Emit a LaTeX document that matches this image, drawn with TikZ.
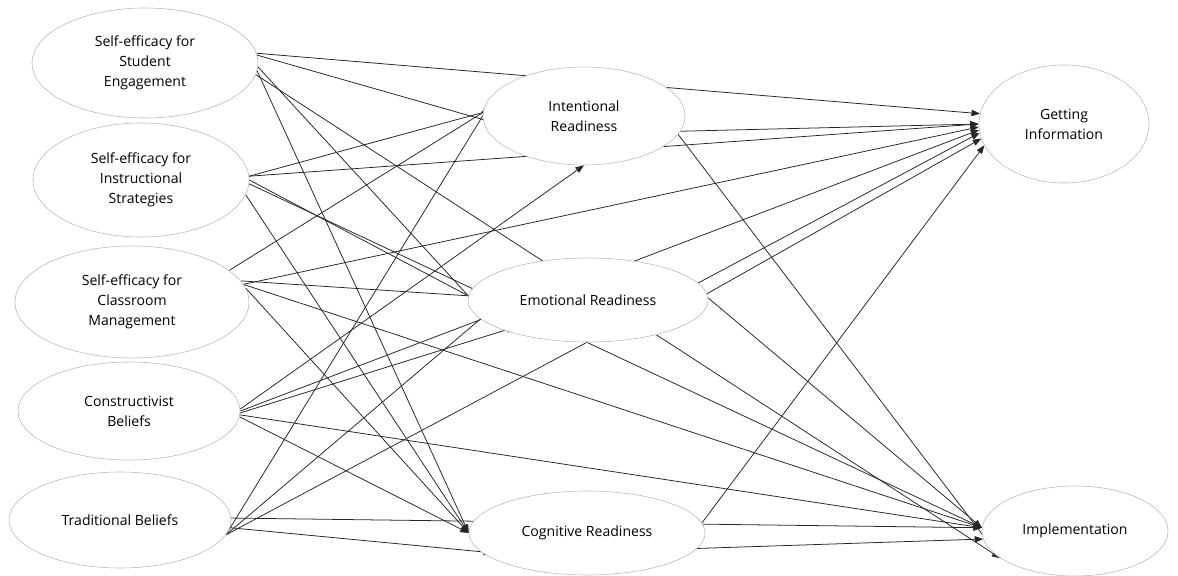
\documentclass[tikz,border=0pt]{standalone}
\usepackage{fontspec}
\setmainfont{Open Sans}
\usetikzlibrary{arrows.meta,shapes.geometric,backgrounds}

\begin{document}
\begin{tikzpicture}[x=0.025cm,y=-0.025cm,
    var/.style={ellipse,draw=black!28,fill=white,inner sep=0pt,align=center,font=\fontsize{10}{14.2}\selectfont},
    link/.style={draw=black!85,line width=0.55pt,-{Triangle[length=6pt,width=4.5pt]}},
    tuck/.style={shorten >=-8pt}]
\useasboundingbox (0,0) rectangle (1178,576);
% predictors
\node [var,minimum width=5.65cm,minimum height=2.75cm] (se1) at (145,63) {Self-efficacy for\\Student\\Engagement};
\node [var,minimum width=5.4cm,minimum height=2.85cm] (se2) at (141,180) {Self-efficacy for\\Instructional\\Strategies};
\node [var,minimum width=5.85cm,minimum height=2.8cm] (se3) at (132,302) {Self-efficacy for\\Classroom\\Management};
\node [var,minimum width=5.55cm,minimum height=2.45cm] (cons) at (129,411) {Constructivist\\Beliefs};
\node [var,minimum width=5.55cm,minimum height=2.4cm] (trad) at (120,520) {Traditional Beliefs};
% mediators
\node [var,minimum width=5.05cm,minimum height=2.45cm] (intent) at (584,116) {Intentional\\Readiness};
\node [var,minimum width=6cm,minimum height=2.1cm] (emo) at (588,300) {Emotional Readiness};
\node [var,minimum width=5.9cm,minimum height=2.1cm] (cog) at (587,533) {Cognitive Readiness};
% outcomes
\node [var,minimum width=4.25cm,minimum height=2.95cm] (info) at (1064,124) {Getting\\Information};
\node [var,minimum width=4.65cm,minimum height=2.25cm] (impl) at (1075,531) {Implementation};

\begin{scope}[on background layer]
\draw [link] (se1.5) -- (info.173);
\draw [link,tuck] (se1.4) -- (intent.182);
\draw [link,tuck] (se1.-2) -- (emo.178);
\draw [link] (se1.-4) -- (cog.180);
\draw [link] (se1.-6) -- (impl.200);

\draw [link] (se2.2) -- (info.180);
\draw [link,tuck] (se2.2) -- (intent.178);
\draw [link,tuck] (se2.0) -- (emo.178);
\draw [link] (se2.-2) -- (impl.178);
\draw [link] (se2.-8) -- (cog.180);

\draw [link,tuck] (se3.18) -- (intent.178);
\draw [link] (se3.9) -- (info.182);
\draw [link,tuck] (se3.11) -- (emo.178);
\draw [link] (se3.9) -- (impl.178);
\draw [link] (se3.7) -- (cog.180);

\draw [link] (cons.1) -- (intent.-90);
\draw [link] (cons.0) -- (info.184);
\draw [link,tuck] (cons.-1) -- (emo.200);
\draw [link] (cons.-2) -- (impl.178);
\draw [link] (cons.-3) -- (cog.180);

\draw [link,tuck] (trad.-8) -- (intent.180);
\draw [link,tuck] (trad.-8) -- (emo.190);
\draw [link] (trad.-8) -- (info.186);
\draw [link] (trad.1) -- (impl.178);
\draw [link,tuck] (trad.-4) -- (cog.190);

\draw [link] (intent.-9) -- (info.180);
\draw [link] (intent.-11) -- (impl.200);
\draw [link] (emo.3) -- (info.190);
\draw [link] (emo.1) -- (impl.178);
\draw [link] (cog.5) -- (info.195);
\draw [link] (cog.-8) -- (impl.185);
\end{scope}
\end{tikzpicture}
\end{document}
